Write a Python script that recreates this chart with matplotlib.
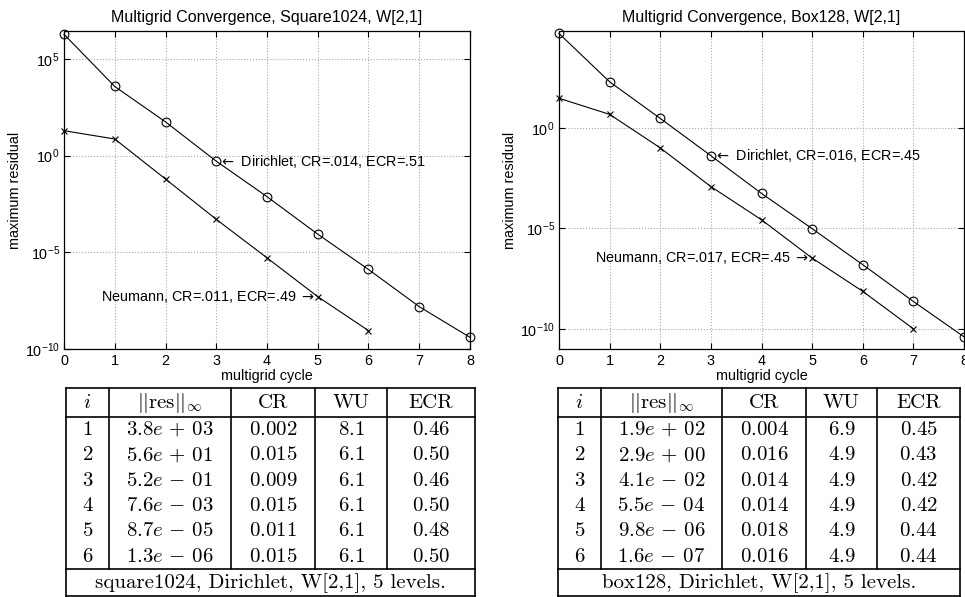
import matplotlib
matplotlib.use("Agg")
import matplotlib.pyplot as plt
from matplotlib.ticker import NullLocator

plt.rcParams['font.family'] = ['Liberation Sans', 'DejaVu Sans']

# ---------------- data ----------------
cycles = [0, 1, 2, 3, 4, 5, 6, 7, 8]

sq_dirichlet = [1.9e6, 3.8e3, 5.6e1, 5.2e-1, 7.6e-3, 8.7e-5, 1.3e-6, 1.55e-8, 4.0e-10]
sq_neumann = [19.6, 7.3, 6.2e-2, 5.1e-4, 5.2e-6, 5.1e-8, 8.9e-10]
box_dirichlet = [4.75e4, 1.9e2, 2.9, 4.1e-2, 5.5e-4, 9.8e-6, 1.6e-7, 2.4e-9, 4.2e-11]
box_neumann = [29.0, 4.6, 0.10, 1.2e-3, 2.7e-5, 3.4e-7, 7.6e-9, 1.05e-10]

sq_title = "Multigrid Convergence, Square1024, W[2,1]"
box_title = "Multigrid Convergence, Box128, W[2,1]"
sq_dir_label = "Dirichlet, CR=.014, ECR=.51"
sq_neu_label = "Neumann, CR=.011, ECR=.49"
box_dir_label = "Dirichlet, CR=.016, ECR=.45"
box_neu_label = "Neumann, CR=.017, ECR=.45"
x_label = "multigrid cycle"
y_label = "maximum residual"

# tables
tab_header = [r"$i$", r"$||\mathrm{res}||_\infty$", "CR", "WU", "ECR"]
sq_i = [1, 2, 3, 4, 5, 6]
sq_res = [3.8e3, 5.6e1, 5.2e-1, 7.6e-3, 8.7e-5, 1.3e-6]
sq_cr = [0.002, 0.015, 0.009, 0.015, 0.011, 0.015]
sq_wu = [8.1, 6.1, 6.1, 6.1, 6.1, 6.1]
sq_ecr = [0.46, 0.50, 0.46, 0.50, 0.48, 0.50]
sq_footer = "square1024, Dirichlet, W[2,1], 5 levels."

box_i = [1, 2, 3, 4, 5, 6]
box_res = [1.9e2, 2.9e0, 4.1e-2, 5.5e-4, 9.8e-6, 1.6e-7]
box_cr = [0.004, 0.016, 0.014, 0.014, 0.018, 0.016]
box_wu = [6.9, 4.9, 4.9, 4.9, 4.9, 4.9]
box_ecr = [0.45, 0.43, 0.42, 0.42, 0.44, 0.44]
box_footer = "box128, Dirichlet, W[2,1], 5 levels."

# ---------------- figure ----------------
W, H = 965, 597
fig = plt.figure(figsize=(W / 100, H / 100), dpi=100)

# overlay for tables (pixel coordinates)
axt = fig.add_axes([0, 0, 1, 1])
axt.set_xlim(0, W)
axt.set_ylim(H, 0)
axt.axis('off')

FS = 10.4


def panel(rect, title, dvals, nvals, dlab, nlab, ylim, yticks):
    ax = fig.add_axes(rect)
    ax.plot(cycles[:len(dvals)], dvals, '-o', color='k', lw=0.8, ms=6.3,
            mfc='none', mew=0.8, clip_on=False, zorder=3)
    ax.plot(cycles[:len(nvals)], nvals, '-x', color='k', lw=0.8, ms=4,
            mew=0.8, clip_on=False, zorder=3)
    ax.set_yscale('log')
    ax.set_xlim(0, 8)
    ax.set_ylim(*ylim)
    ax.set_xticks(cycles)
    ax.set_yticks(yticks)
    ax.yaxis.set_minor_locator(NullLocator())
    ax.tick_params(direction='in', top=True, right=True, length=4,
                   width=0.8, labelsize=FS)
    ax.tick_params(axis='x', pad=3.5)
    ax.tick_params(axis='y', pad=3)
    ax.grid(True, which='major', linestyle=':', color='#a8a8a8', lw=0.8)
    for s in ax.spines.values():
        s.set_linewidth(0.9)
    ax.set_title(title, fontsize=11.5, pad=6.5)
    ax.set_xlabel(x_label, fontsize=FS, labelpad=1)
    ax.set_ylabel(y_label, fontsize=FS, labelpad=2)
    ax.annotate(r"$\leftarrow$ " + dlab, xy=(3, dvals[3]), xytext=(2, 0),
                textcoords='offset points', ha='left', va='center', fontsize=FS)
    ax.annotate(nlab + r" $\rightarrow$", xy=(5, nvals[5]), xytext=(-2, 0),
                textcoords='offset points', ha='right', va='center', fontsize=FS)
    return ax


ax_b = 1 - 349 / H
ax_h = 318 / H
panel([64 / W, ax_b, 406 / W, ax_h], sq_title, sq_dirichlet, sq_neumann,
      sq_dir_label, sq_neu_label, (1e-10, 10 ** 6.45), [1e-10, 1e-5, 1e0, 1e5])
panel([559 / W, ax_b, 405 / W, ax_h], box_title, box_dirichlet, box_neumann,
      box_dir_label, box_neu_label, (10 ** -10.98, 10 ** 4.8), [1e-10, 1e-5, 1e0])


def sci(v):
    s = f"{v:.1e}"
    mant, ex = s.split('e')
    sign = ex[0]
    op = '+' if sign == '+' else '-'
    return rf"${mant}e\,{op}\,{ex[1:]}$"


def table(xs, ii, res, cr, wu, ecr, footer):
    top, hb, fb, bot = 388, 417, 569, 596
    lw = 1.2
    axt.plot([xs[0], xs[-1]], [top, top], color='k', lw=lw)
    axt.plot([xs[0], xs[-1]], [hb, hb], color='k', lw=lw)
    axt.plot([xs[0], xs[-1]], [fb, fb], color='k', lw=lw)
    axt.plot([xs[0], xs[-1]], [bot, bot], color='k', lw=lw)
    axt.plot([xs[0], xs[0]], [top, bot], color='k', lw=lw)
    axt.plot([xs[-1], xs[-1]], [top, bot], color='k', lw=lw)
    for x in xs[1:-1]:
        axt.plot([x, x], [top, fb], color='k', lw=lw)
    centers = [(xs[k] + xs[k + 1]) / 2 for k in range(5)]
    tfs = 15
    for k, h in enumerate(tab_header):
        if h.startswith('$'):
            axt.text(centers[k], top + 20, h, ha='center', va='baseline',
                     fontsize=tfs, math_fontfamily='cm')
        else:
            axt.text(centers[k], top + 20, h, ha='center', va='baseline',
                     fontsize=tfs, family='cmr10')
    rh = (fb - hb) / len(ii)
    for r in range(len(ii)):
        yb = hb + r * rh + 18
        cells = [f"${ii[r]}$", sci(res[r]), f"${cr[r]:.3f}$",
                 f"${wu[r]:.1f}$", f"${ecr[r]:.2f}$"]
        for k, c in enumerate(cells):
            axt.text(centers[k], yb, c, ha='center', va='baseline',
                     fontsize=tfs, math_fontfamily='cm')
    axt.text((xs[0] + xs[-1]) / 2, fb + 19, footer, ha='center',
             va='baseline', fontsize=tfs, family='cmr10')


table([66, 109, 231, 315, 387, 475], sq_i, sq_res, sq_cr, sq_wu, sq_ecr, sq_footer)
table([558, 601, 722, 806, 877, 960], box_i, box_res, box_cr, box_wu, box_ecr, box_footer)

fig.savefig("out.png", dpi=100)
